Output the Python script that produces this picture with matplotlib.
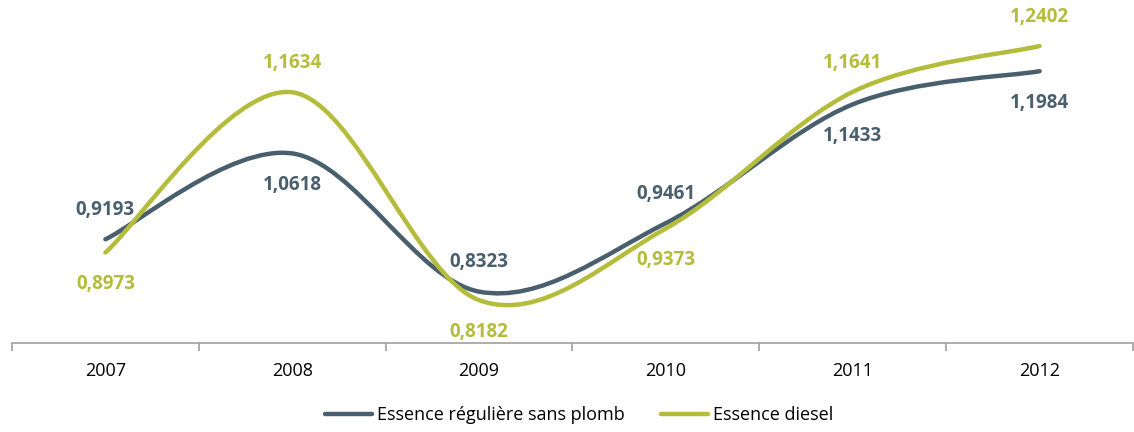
import numpy as np
import matplotlib
matplotlib.use("Agg")
import matplotlib.pyplot as plt
from matplotlib.path import Path
from matplotlib.patches import PathPatch

years = ["2007", "2008", "2009", "2010", "2011", "2012"]
sans_plomb = [0.9193, 1.0618, 0.8323, 0.9461, 1.1433, 1.1984]
diesel = [0.8973, 1.1634, 0.8182, 0.9373, 1.1641, 1.2402]
names = ["Essence régulière sans plomb", "Essence diesel"]
label_pos_plomb = ["up", "down", "up", "up", "down", "down"]
label_pos_diesel = ["down", "up", "down", "down", "up", "up"]

c_gray = "#4A5F6E"
c_green = "#B4BD3B"

plt.rcParams['font.family'] = ['Open Sans', 'DejaVu Sans']

fig = plt.figure(figsize=(11.34, 4.32), dpi=100)
ax = fig.add_axes([12/1134, 1-343/432, 1121/1134, 333/432])
ax.set_xlim(-0.5, len(years) - 0.5)
ax.set_ylim(0.747, 1.30)


def smooth(ax, xs, ys, color, label):
    # Catmull-Rom style bezier in display space (like Excel smoothing)
    pts = ax.transData.transform(np.column_stack([xs, ys]))
    n = len(pts)
    verts = [pts[0]]
    codes = [Path.MOVETO]
    for i in range(n - 1):
        p0 = pts[i - 1] if i > 0 else pts[i]
        p1 = pts[i]
        p2 = pts[i + 1]
        p3 = pts[i + 2] if i + 2 < n else pts[i + 1]
        c1 = p1 + (p2 - p0) / 6.0
        c2 = p2 - (p3 - p1) / 6.0
        verts += [c1, c2, p2]
        codes += [Path.CURVE4] * 3
    inv = ax.transData.inverted()
    verts = inv.transform(np.array(verts))
    patch = PathPatch(Path(verts, codes), facecolor="none", edgecolor=color,
                      lw=3.2, capstyle="round", joinstyle="round")
    ax.add_patch(patch)
    ax.plot([], [], color=color, lw=3.2, label=label, solid_capstyle="round")


xs = np.arange(len(years))
smooth(ax, xs, sans_plomb, c_gray, names[0])
smooth(ax, xs, diesel, c_green, names[1])

for vals, pos, col in [(sans_plomb, label_pos_plomb, c_gray), (diesel, label_pos_diesel, c_green)]:
    for x, v, p in zip(xs, vals, pos):
        off = 21 if p == "up" else -23
        ax.annotate(f"{v:.4f}".replace(".", ","), (x, v), xytext=(0, off),
                    textcoords="offset points", ha="center", va="center",
                    fontsize=13.5, fontweight="bold", color=col)

for s in ["top", "right", "left"]:
    ax.spines[s].set_visible(False)
ax.spines["bottom"].set_color("#A0A0A0")
ax.spines["bottom"].set_linewidth(1.2)
ax.set_yticks([])
ax.set_xticks(xs)
ax.set_xticklabels(years, fontsize=13)
ax.tick_params(axis="x", length=0, pad=14)
ax.set_xticks(np.arange(-0.5, len(years)), minor=True)
ax.tick_params(axis="x", which="minor", length=6, color="#A0A0A0", width=1.2)

fig.legend(loc="center", bbox_to_anchor=(579/1134, 1 - 415/432), ncol=2, frameon=False,
           fontsize=13, handlelength=2.6, columnspacing=2.0, handletextpad=0.3)

fig.savefig("out.png", dpi=100)
